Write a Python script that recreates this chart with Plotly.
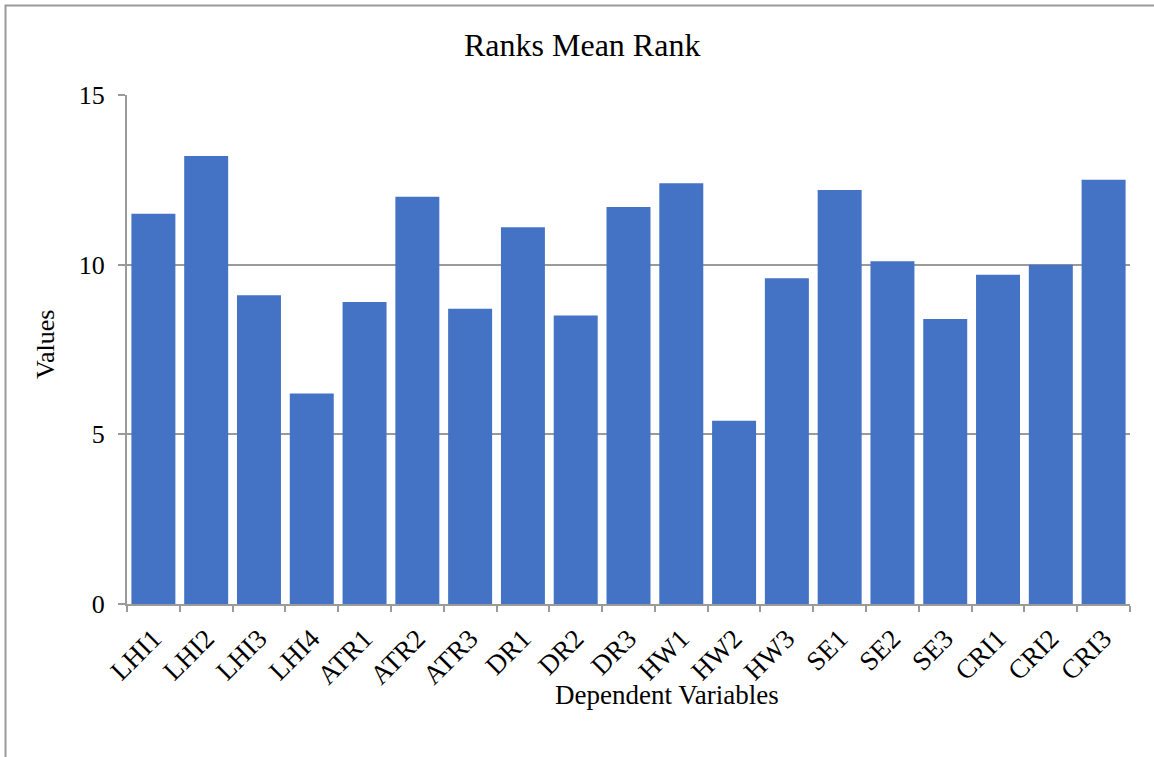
import plotly.graph_objects as go

categories = ["LHI1", "LHI2", "LHI3", "LHI4", "ATR1", "ATR2", "ATR3", "DR1", "DR2", "DR3",
              "HW1", "HW2", "HW3", "SE1", "SE2", "SE3", "CRI1", "CRI2", "CRI3"]
values = [11.5, 13.2, 9.1, 6.2, 8.9, 12.0, 8.7, 11.1, 8.5, 11.7,
          12.4, 5.4, 9.6, 12.2, 10.1, 8.4, 9.7, 10.0, 12.5]
y_ticks = [0, 5, 10, 15]

W, H = 1154, 757
L, R, T, B = 127, 24, 95, 153
pw, ph = W - L - R, H - T - B

def px(x):
    return (x - L) / pw

def py(y):
    return (H - B - y) / ph

FONT = "Liberation Serif, Times New Roman, serif"
GRAY = "#9a9a9a"

fig = go.Figure(go.Bar(x=categories, y=values, marker=dict(color="#4472C4", line=dict(width=0))))

fig.update_layout(
    width=W, height=H,
    margin=dict(l=L, r=R, t=T, b=B),
    paper_bgcolor="white", plot_bgcolor="white",
    bargap=0.167,
    showlegend=False,
    font=dict(family=FONT, color="black", size=26),
    xaxis=dict(
        showline=True, linecolor=GRAY, linewidth=2,
        ticks="outside", tickson="boundaries", ticklen=6, tickcolor=GRAY, tickwidth=2,
        tickangle=-45, tickfont=dict(family=FONT, size=27, color="black"),
        ticklabelstandoff=6,
        showgrid=False,
    ),
    yaxis=dict(
        range=[0, 15], tickvals=y_ticks,
        showline=True, linecolor=GRAY, linewidth=2,
        ticks="outside", ticklen=7, tickcolor=GRAY, tickwidth=2,
        showgrid=True, gridcolor=GRAY, gridwidth=2,
        tickfont=dict(family=FONT, size=26, color="black"),
        ticklabelstandoff=8,
        zeroline=False,
    ),
    annotations=[
        dict(text="Ranks Mean Rank", x=px(582), y=py(45), xref="paper", yref="paper",
             showarrow=False, font=dict(family=FONT, size=32, color="black"),
             xanchor="center", yanchor="middle"),
        dict(text="Dependent Variables", x=px(667), y=py(695), xref="paper", yref="paper",
             showarrow=False, font=dict(family=FONT, size=27, color="black"),
             xanchor="center", yanchor="middle"),
        dict(text="Values", x=px(45), y=py(345), xref="paper", yref="paper",
             showarrow=False, textangle=-90, font=dict(family=FONT, size=26, color="black"),
             xanchor="center", yanchor="middle"),
    ],
    shapes=[
        dict(type="rect", xref="paper", yref="paper",
             x0=px(5.5), x1=px(1170), y0=py(5.5), y1=py(800),
             line=dict(color=GRAY, width=2), fillcolor="rgba(0,0,0,0)", layer="below"),
    ],
)

fig.write_html("out.html", config={"displayModeBar": False},
               post_script="document.body.style.margin='0';")
